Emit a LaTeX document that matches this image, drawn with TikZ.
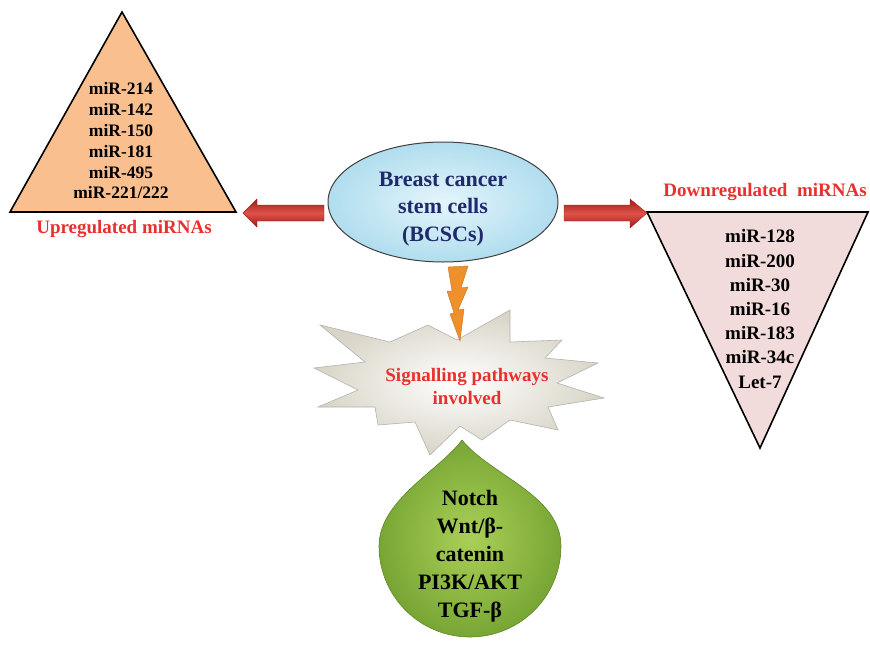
\documentclass[tikz,border=0pt]{standalone}
\usepackage{fontspec}
\setmainfont{Liberation Serif}
\usetikzlibrary{shapes.geometric}
\definecolor{peach}{HTML}{F9BF8F}
\definecolor{pinkish}{HTML}{F2DCDB}
\definecolor{redtxt}{HTML}{E8302E}
\definecolor{navy}{HTML}{1F2A6B}
\definecolor{skyin}{HTML}{E4F5FB}
\definecolor{skyout}{HTML}{B0DDEE}
\definecolor{arrowdark}{HTML}{9C1C18}
\definecolor{arrowlight}{HTML}{E0524A}
\definecolor{bolt}{HTML}{F0902A}
\definecolor{leafin}{HTML}{AACF58}
\definecolor{leafout}{HTML}{78A634}
\definecolor{starout}{HTML}{D8D4C6}
\tikzset{
  tri/.style={draw=black, line width=1.6pt, line join=miter},
  listtxt/.style={align=center, font=\fontsize{17.5}{20.8}\selectfont\bfseries, text=black},
  redlabel/.style={font=\fontsize{19}{23}\selectfont\bfseries, text=redtxt},
  blockarrow/.style={draw=arrowdark, line width=0.4pt, top color=arrowdark, bottom color=arrowdark, middle color=arrowlight},
}
\begin{document}
\begin{tikzpicture}[x=1pt,y=-1pt]
\useasboundingbox (0,0) rectangle (870,656);
% left triangle
\coordinate (LA) at (122,12);
\coordinate (LB) at (10,212);
\coordinate (LC) at (236,212);
\fill[peach] (LA) -- (LB) -- (LC) -- cycle;
\draw[tri] (LA) -- (LB) -- (LC) -- cycle;
\node[listtxt] (uplist) at (121,141) {miR-214\\miR-142\\miR-150\\miR-181\\miR-495\\miR-221/222};
\node[redlabel] (uplabel) at (124,229) {Upregulated miRNAs};
% right triangle
\coordinate (RA) at (647,212);
\coordinate (RB) at (868,212);
\coordinate (RC) at (760,448);
\fill[pinkish] (RA) -- (RB) -- (RC) -- cycle;
\draw[tri] (RA) -- (RB) -- (RC) -- cycle;
\node[listtxt, font=\fontsize{19}{24.2}\selectfont\bfseries] (downlist) at (760,309) {miR-128\\miR-200\\miR-30\\miR-16\\miR-183\\miR-34c\\Let-7};
\node[redlabel] (downlabel) at (765,192) {Downregulated\ \ miRNAs};
% ellipse
\node[ellipse, draw=black!75, line width=1pt, inner color=skyin, outer color=skyout, minimum width=230pt, minimum height=120pt, inner sep=0pt] (bcsc) at (443,202) {};
\node[align=center, font=\fontsize{22}{27.5}\selectfont\bfseries, text=navy] (bcsctxt) at (443,209) {Breast cancer\\stem cells\\(BCSCs)};
% arrows
\path[blockarrow] (324,205) -- (257,205) -- (257,199) -- (243,213) -- (257,227) -- (257,221) -- (324,221) -- cycle;
\path[blockarrow] (564,205) -- (630,205) -- (630,199) -- (647,213) -- (630,228) -- (630,221) -- (564,221) -- cycle;
% starburst
\path[draw=black!30, line width=0.6pt, inner color=white, outer color=starout, line join=miter]
 (320,325) -- (390,342) -- (428,325) -- (457,340) -- (510,310) -- (510,342) -- (562,340) -- (545,358) -- (598,363) -- (557,383) -- (604,398) -- (548,407) -- (558,430) -- (510,420) -- (482,440) -- (460,426) -- (430,455) -- (415,422) -- (378,425) -- (375,407) -- (318,407) -- (358,390) -- (314,368) -- (365,362) -- cycle;
\node[align=center, font=\fontsize{19}{23}\selectfont\bfseries, text=redtxt] (signal) at (467,386) {Signalling pathways\\involved};
% lightning bolt
\path[fill=bolt, draw=bolt!80!black, line width=0.4pt, line join=miter]
 (448,267) -- (468,266) -- (461,288) -- (468,287) -- (458,310) -- (464,309) -- (460,341) -- (450,314) -- (454,313) -- (447,291) -- (452,291) -- cycle;
% green drop
\path[draw=leafout!80!black, line width=0.6pt, inner color=leafin, outer color=leafout]
 (462,440) .. controls (490,475) and (561,495) .. (561,546) arc (0:180:91) .. controls (379,500) and (440,470) .. cycle;
\node[align=center, font=\fontsize{22}{28}\selectfont\bfseries, text=black] (pathways) at (470,556) {Notch\\Wnt/β-\\catenin\\PI3K/AKT\\TGF-β};
\end{tikzpicture}
\end{document}
